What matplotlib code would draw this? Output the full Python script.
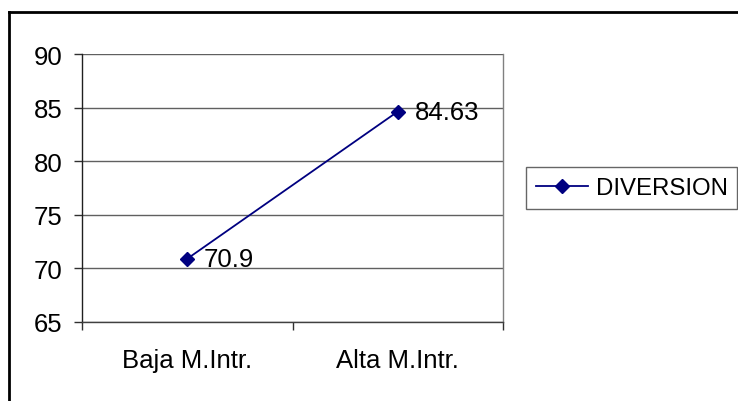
import matplotlib
matplotlib.use("Agg")
import matplotlib.pyplot as plt
from matplotlib.lines import Line2D
from matplotlib.ticker import FixedLocator, NullFormatter

categories = ["Baja M.Intr.", "Alta M.Intr."]
diversion = [70.9, 84.63]
series_name = "DIVERSION"
y_ticks = [65, 70, 75, 80, 85, 90]

plt.rcParams["font.family"] = ["Liberation Sans", "DejaVu Sans"]
FS = 18.5

W, H = 738, 402
fig = plt.figure(figsize=(W / 100, H / 100), dpi=100)
ax = fig.add_axes([82 / W, 1 - 323 / H, (503 - 82) / W, (323 - 55) / H])

x = list(range(len(categories)))
line, = ax.plot(x, diversion, color="#000080", linewidth=1.3, marker="D",
                markersize=7.5, markerfacecolor="#000080",
                markeredgecolor="#000080", zorder=5, label=series_name)

for xi, v in zip(x, diversion):
    ax.annotate(f"{v:g}", (xi, v), xytext=(12, 0), textcoords="offset points",
                ha="left", va="center", fontsize=FS, color="black")

ax.set_xlim(-0.5, len(categories) - 0.5)
ax.set_ylim(y_ticks[0], y_ticks[-1])
ax.set_yticks(y_ticks)
ax.yaxis.grid(True, color="#606060", linewidth=1.0)
ax.set_axisbelow(True)

ax.set_xticks(x)
ax.set_xticklabels(categories, fontsize=FS)
ax.xaxis.set_minor_locator(FixedLocator([-0.5 + i for i in range(len(categories) + 1)]))
ax.xaxis.set_minor_formatter(NullFormatter())
ax.tick_params(axis="x", which="major", length=0, pad=19)
ax.tick_params(axis="x", which="minor", length=6, width=1.0, color="#303030")
ax.tick_params(axis="y", length=6, width=1.0, color="#303030", labelsize=FS, pad=8)

ax.spines["top"].set_visible(False)
ax.spines["left"].set_color("#202020")
ax.spines["bottom"].set_color("#404040")
ax.spines["right"].set_color("#808080")
for s in ax.spines.values():
    s.set_linewidth(1.0)

leg = fig.legend(handles=[line], loc="center left",
                 bbox_to_anchor=(526 / W, 1 - 189 / H), fontsize=17.3,
                 frameon=True, fancybox=False, borderpad=0.4,
                 handlelength=2.2, handletextpad=0.3, borderaxespad=0)
leg.get_frame().set_edgecolor("#404040")
leg.get_frame().set_linewidth(1.0)

# outer chart border (top and left edges)
fig.add_artist(Line2D([9 / W, 1.0], [1 - 13 / H, 1 - 13 / H],
                      transform=fig.transFigure, color="black", linewidth=2.0))
fig.add_artist(Line2D([9 / W, 9 / W], [0.0, 1 - 13 / H],
                      transform=fig.transFigure, color="black", linewidth=2.0))

fig.savefig("out.png", dpi=100)
